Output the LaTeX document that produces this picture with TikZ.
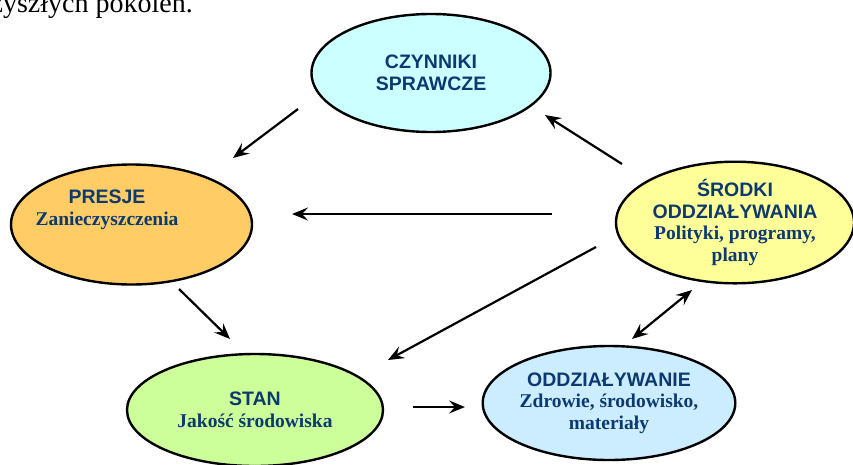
\documentclass[tikz,border=0pt]{standalone}
\usepackage{fontspec}
\setmainfont{Liberation Serif}
\setsansfont{Liberation Sans}
\usepackage{tikz}
\usetikzlibrary{calc,
                shapes.geometric,
                arrows.meta
                }

\definecolor{textblau}{RGB}{12,58,112}
\definecolor{fcyan}{HTML}{CCFFFF}
\definecolor{forange}{HTML}{FFCC66}
\definecolor{fgelb}{HTML}{FFFF99}
\definecolor{fgruen}{HTML}{CCFF99}
\definecolor{fblau}{HTML}{CCECFF}

\newcommand{\kopf}[1]{{\sffamily\bfseries #1}}
\newcommand{\unter}[1]{{\rmfamily\bfseries #1}}

\tikzset{
  blase/.style={ellipse, draw, line width=2.4pt, inner sep=0pt, align=center,
    text=textblau, font=\fontsize{19.5}{21.5}\selectfont},
  pfeil/.style={line width=2.2pt, -{Stealth[length=16pt,width=13pt,inset=6pt]}},
  doppelpfeil/.style={line width=2.2pt,
    {Stealth[length=16pt,width=13pt,inset=6pt]}-{Stealth[length=16pt,width=13pt,inset=6pt]}}
}

\begin{document}
\begin{tikzpicture}[x=1pt,y=-1pt]
    % Rahmen des Bildes
    \clip (0,0) rectangle (853,464);

    % Textrest oben links
    \node[anchor=base east, inner sep=0pt, font=\fontsize{28}{30}\selectfont]
      (zeile) at (193,12) {przyszłych pokoleń.};

    % Zeichne die Ellipsen
    \node[blase, fill=fcyan, minimum width=239, minimum height=118]
      (czynniki) at (431,73) {\kopf{CZYNNIKI}\\\kopf{SPRAWCZE}};
    \node[blase, fill=forange, minimum width=241, minimum height=120]
      (presje) at (131.5,224.5) {};
    \node[align=center, text=textblau, inner sep=0pt,
      font=\fontsize{19.5}{21.5}\selectfont]
      (presjetext) at ($(presje)+(-24.5,-14.5)$)
      {\kopf{PRESJE}\\\unter{Zanieczyszczenia}};
    \node[blase, fill=fgelb, minimum width=238, minimum height=117]
      (srodki) at (735,222.5)
      {\kopf{ŚRODKI}\\\kopf{ODDZIAŁYWANIA}\\\unter{Polityki, programy,}\\\unter{plany}};
    \node[blase, fill=fgruen, minimum width=256, minimum height=112]
      (stan) at (255,410) {\kopf{STAN}\\\unter{Jakość środowiska}};
    \node[blase, fill=fblau, minimum width=244, minimum height=114]
      (oddz) at (609,403)
      {\kopf{ODDZIAŁYWANIE}\\\unter{Zdrowie, środowisko,}\\\unter{materiały}};

    % Endpunkte der Pfeile
    \coordinate (cz-a) at (298,109);
    \coordinate (pr-e) at (233,158);
    \coordinate (sr-a) at (622,164);
    \coordinate (cz-e) at (545,115);
    \coordinate (sr-b) at (552,214);
    \coordinate (pr-f) at (292,214);
    \coordinate (pr-a) at (179,289);
    \coordinate (st-e) at (230,339);
    \coordinate (sr-c) at (596,247);
    \coordinate (st-f) at (388,360);
    \coordinate (st-a) at (413,407);
    \coordinate (od-e) at (465,407);
    \coordinate (od-a) at (632,339);
    \coordinate (sr-e) at (692,290);

    % Zeichne die Pfeile
    \draw[pfeil] (cz-a) -- (pr-e);
    \draw[pfeil] (sr-a) -- (cz-e);
    \draw[pfeil] (sr-b) -- (pr-f);
    \draw[pfeil] (pr-a) -- (st-e);
    \draw[pfeil] (sr-c) -- (st-f);
    \draw[pfeil] (st-a) -- (od-e);
    \draw[doppelpfeil] (od-a) -- (sr-e);
\end{tikzpicture}
\end{document}
